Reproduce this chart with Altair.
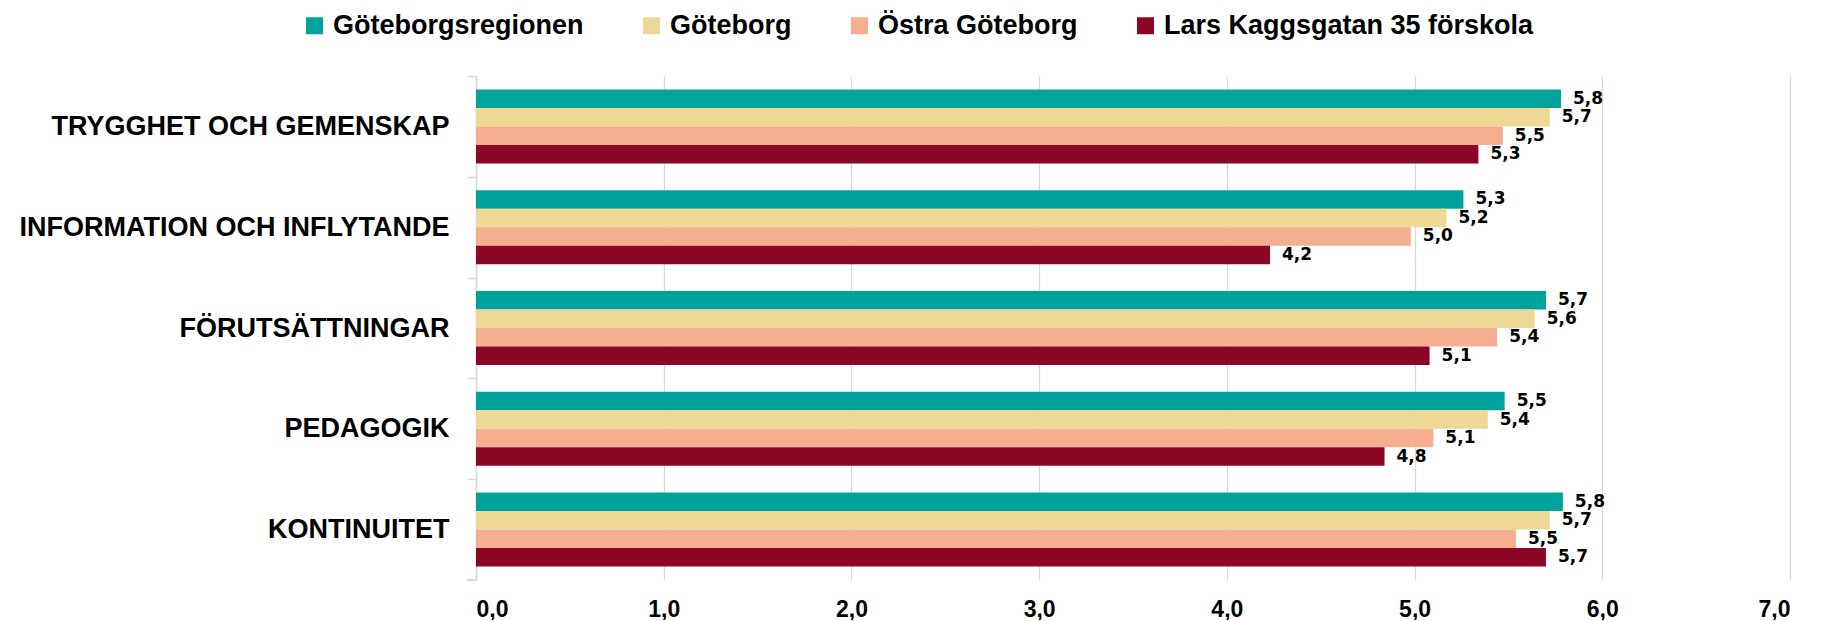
import altair as alt
import pandas as pd

categories = [
    "TRYGGHET OCH GEMENSKAP",
    "INFORMATION OCH INFLYTANDE",
    "FÖRUTSÄTTNINGAR",
    "PEDAGOGIK",
    "KONTINUITET",
]
series = ["Göteborgsregionen", "Göteborg", "Östra Göteborg", "Lars Kaggsgatan 35 förskola"]
colors = ["#00A39B", "#EDD896", "#F5AE8F", "#8C0725"]

goteborgsregionen = [5.78, 5.26, 5.70, 5.48, 5.79]
goteborg = [5.72, 5.17, 5.64, 5.39, 5.72]
ostra_goteborg = [5.47, 4.98, 5.44, 5.10, 5.54]
lars_kaggsgatan = [5.34, 4.23, 5.08, 4.84, 5.70]

x_ticks = [0, 1, 2, 3, 4, 5, 6, 7]

rows = []
for s, vals in zip(series, [goteborgsregionen, goteborg, ostra_goteborg, lars_kaggsgatan]):
    for c, v in zip(categories, vals):
        rows.append({"kategori": c, "serie": s, "varde": v})
df = pd.DataFrame(rows)

W, H = 1314, 504

y_enc = alt.Y(
    "kategori:N",
    sort=categories,
    scale=alt.Scale(paddingInner=0, paddingOuter=0),
    axis=alt.Axis(
        title=None,
        tickBand="extent",
        tickSize=9,
        tickColor="#d9d9d9",
        tickWidth=1.5,
        domainColor="#d9d9d9",
        domainWidth=1.5,
        labelFont="Liberation Sans",
        labelFontWeight="bold",
        labelFontSize=27,
        labelColor="#000000",
        labelPadding=18,
        labelLimit=500,
        grid=False,
    ),
)
yoff_enc = alt.YOffset(
    "serie:N",
    sort=series,
    scale=alt.Scale(paddingInner=0, paddingOuter=0.7245),
)
x_enc = alt.X(
    "varde:Q",
    scale=alt.Scale(domain=[0, 7], nice=False),
    axis=alt.Axis(
        title=None,
        values=x_ticks,
        domain=False,
        ticks=False,
        grid=True,
        gridColor="#d9d9d9",
        gridWidth=1.3,
        labelExpr="replace(format(datum.value, '.1f'), '.', ',')",
        labelFont="Liberation Sans",
        labelFontWeight="bold",
        labelFontSize=23,
        labelColor="#000000",
        labelPadding=18,
    ),
)

bars = alt.Chart(df).mark_bar(height={"band": 1}).encode(
    y=y_enc,
    yOffset=yoff_enc,
    x=x_enc,
    color=alt.Color(
        "serie:N",
        sort=series,
        scale=alt.Scale(domain=series, range=colors),
        legend=alt.Legend(
            title=None,
            orient="none",
            direction="horizontal",
            columns=4,
            legendX=-175,
            legendY=-64,
            symbolType="square",
            symbolSize=289,
            symbolStrokeWidth=0,
            symbolOpacity=1,
            labelFont="Liberation Sans",
            labelFontWeight="bold",
            labelFontSize=27,
            labelColor="#000000",
            labelOffset=5,
            labelLimit=600,
            columnPadding=54,
        ),
    ),
)

labels = alt.Chart(df).transform_calculate(
    etikett="replace(format(datum.varde, '.1f'), '.', ',')"
).mark_text(
    align="left",
    baseline="middle",
    dx=12,
    font="DejaVu Sans",
    fontWeight="bold",
    fontSize=17,
    color="#000000",
).encode(
    y=alt.Y("kategori:N", sort=categories),
    yOffset=alt.YOffset("serie:N", sort=series),
    x=alt.X("varde:Q"),
    text="etikett:N",
)

bottom_tick = alt.Chart(df).mark_rule(color="#d9d9d9", strokeWidth=1.5).encode(
    x=alt.value(-9), x2=alt.value(0), y=alt.value(H)
)

chart = alt.layer(bars, labels, bottom_tick).properties(
    width=W,
    height=H,
    autosize=alt.AutoSizeParams(type="none"),
    padding={"left": 468, "top": 68, "right": 20, "bottom": 40},
).configure_view(stroke="transparent")

chart.save("out.html", embed_options={"renderer": "svg", "actions": False})
